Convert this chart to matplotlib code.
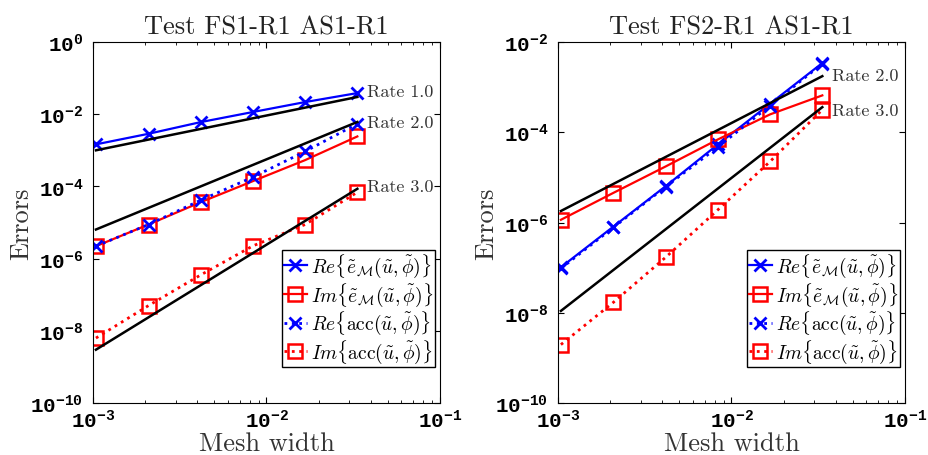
import matplotlib
matplotlib.use('Agg')
import matplotlib.pyplot as plt
from matplotlib.font_manager import FontProperties
from matplotlib.ticker import LogLocator, NullLocator, NullFormatter

# tick labels in a bold mono face, everything else set explicitly below
plt.rcParams['font.family'] = 'Liberation Mono'
plt.rcParams['font.weight'] = 'bold'
plt.rcParams['mathtext.fontset'] = 'cm'

# mesh widths (same for both tests)
h = [1.04e-3, 2.09e-3, 4.18e-3, 8.35e-3, 1.67e-2, 3.34e-2]

# Test FS1-R1 AS1-R1
re_em_1 = [1.46e-3, 2.87e-3, 6.05e-3, 1.15e-2, 2.17e-2, 3.85e-2]
im_em_1 = [2.21e-6, 8.8e-6, 3.66e-5, 1.40e-4, 5.35e-4, 2.42e-3]
re_acc_1 = [2.21e-6, 8.8e-6, 4.16e-5, 1.81e-4, 9.3e-4, 5.44e-3]
im_acc_1 = [6.3e-9, 5.0e-8, 3.54e-7, 2.25e-6, 8.8e-6, 6.9e-5]
rate_names_1 = ['Rate 1.0', 'Rate 2.0', 'Rate 3.0']
rate_ends_1 = [[1.0e-3, 3.0e-2], [6.4e-6, 6.1e-3], [3.0e-9, 8.6e-5]]
rate_label_y_1 = [4.4e-2, 6.0e-3, 1.0e-4]

# Test FS2-R1 AS1-R1
re_em_2 = [1.02e-7, 8.15e-7, 6.4e-6, 5.37e-5, 4.29e-4, 3.42e-3]
im_em_2 = [1.15e-6, 4.55e-6, 1.75e-5, 6.93e-5, 2.49e-4, 6.56e-4]
re_acc_2 = [9.6e-8, 7.8e-7, 6.2e-6, 4.7e-5, 3.9e-4, 3.3e-3]
im_acc_2 = [1.97e-9, 1.71e-8, 1.70e-7, 1.91e-6, 2.25e-5, 3.15e-4]
rate_names_2 = ['Rate 2.0', 'Rate 3.0']
rate_ends_2 = [[1.8e-6, 1.75e-3], [1.1e-8, 3.6e-4]]
rate_label_y_2 = [1.8e-3, 3.1e-4]

labels = [r'$Re\{\tilde{e}_{\mathcal{M}}(\tilde{u},\tilde{\phi})\}$',
          r'$Im\{\tilde{e}_{\mathcal{M}}(\tilde{u},\tilde{\phi})\}$',
          r'$Re\{\mathrm{acc}(\tilde{u},\tilde{\phi})\}$',
          r'$Im\{\mathrm{acc}(\tilde{u},\tilde{\phi})\}$']

serif = 'cmr10'


def draw_panel(ax, title, series, rate_names, rate_ends, rate_label_y, ylim, yticks):
    re_em, im_em, re_acc, im_acc = series
    ax.plot(h, re_em, '-x', color='blue', lw=1.6, ms=9, mew=2, label=labels[0])
    ax.plot(h, im_em, '-s', color='red', lw=1.6, ms=10, mew=1.8, mfc='none', label=labels[1])
    ax.plot(h, re_acc, ':x', color='blue', lw=2, ms=9, mew=2, label=labels[2])
    ax.plot(h, im_acc, ':s', color='red', lw=2, ms=10, mew=1.8, mfc='none', label=labels[3])

    # reference slopes
    for name, ends, ly in zip(rate_names, rate_ends, rate_label_y):
        ax.plot([h[0], h[-1]], ends, '-', color='black', lw=1.8)
        ax.annotate(name, xy=(h[-1], ly), xytext=(7, 0), textcoords='offset points',
                    va='center', ha='left', family=serif, weight='normal',
                    fontsize=13, color='#333333')

    ax.set_xscale('log')
    ax.set_yscale('log')
    ax.set_xlim(1e-3, 1e-1)
    ax.set_ylim(*ylim)
    ax.set_yticks(yticks)
    ax.yaxis.set_minor_locator(NullLocator())
    ax.xaxis.set_minor_locator(LogLocator(base=10, subs=range(2, 10)))
    ax.xaxis.set_minor_formatter(NullFormatter())
    ax.tick_params(which='both', direction='in', top=True, right=True, labelsize=15)
    ax.tick_params(which='major', length=4, width=0.8)
    ax.tick_params(which='minor', length=2, width=0.6)
    ax.tick_params(axis='y', pad=7)
    ax.tick_params(axis='x', pad=4)

    ax.set_title(title, family=serif, weight='normal', fontsize=19, color='#222222', pad=6)
    ax.set_xlabel('Mesh width', family=serif, weight='normal', fontsize=19,
                  color='#333333', labelpad=0)
    ax.set_ylabel('Errors', family=serif, weight='normal', fontsize=19,
                  color='#333333', labelpad=-2)

    prop = FontProperties(family=serif, weight='normal', size=14, math_fontfamily='cm')
    leg = ax.legend(loc='lower right', bbox_to_anchor=(0.986, 0.1), borderaxespad=0,
                    prop=prop, handlelength=1.2, handletextpad=0.2, labelspacing=0.05,
                    borderpad=0.1, fancybox=False, framealpha=1, edgecolor='black')
    leg.get_frame().set_linewidth(1.0)


fig = plt.figure(figsize=(9.29, 4.56), dpi=100)
ax1 = fig.add_axes([0.1001, 0.114, 0.3735, 0.7917])
ax2 = fig.add_axes([0.6006, 0.114, 0.3735, 0.7917])

draw_panel(ax1, 'Test FS1-R1 AS1-R1', [re_em_1, im_em_1, re_acc_1, im_acc_1],
           rate_names_1, rate_ends_1, rate_label_y_1, (1e-10, 1e0),
           [1e-10, 1e-8, 1e-6, 1e-4, 1e-2, 1e0])
draw_panel(ax2, 'Test FS2-R1 AS1-R1', [re_em_2, im_em_2, re_acc_2, im_acc_2],
           rate_names_2, rate_ends_2, rate_label_y_2, (1e-10, 1e-2),
           [1e-10, 1e-8, 1e-6, 1e-4, 1e-2])

fig.savefig('out.png', dpi=100)
